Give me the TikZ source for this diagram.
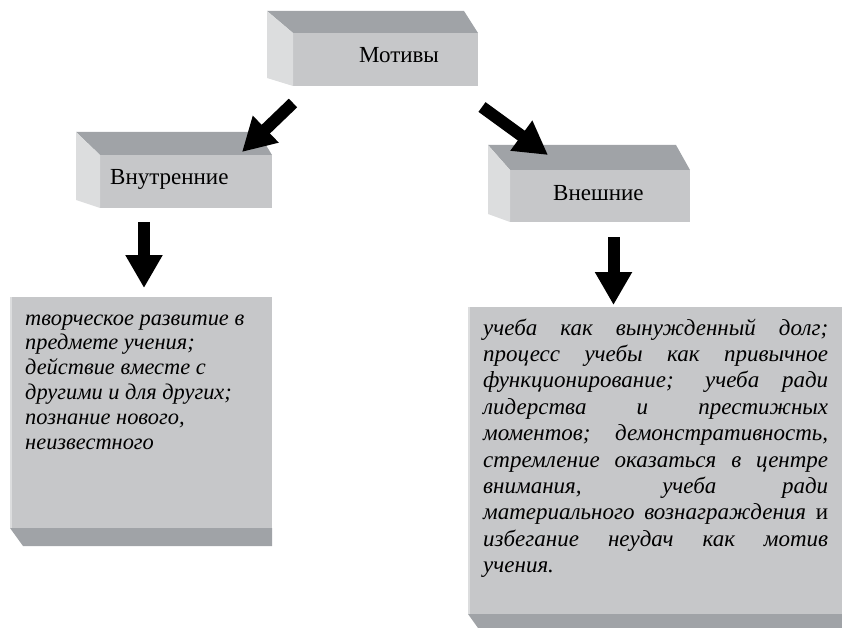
\documentclass[tikz,border=0pt]{standalone}
\usepackage{fontspec}
\setmainfont{Liberation Serif}
\usetikzlibrary{arrows.meta}
\definecolor{frontc}{HTML}{C6C7C9}
\definecolor{topc}{HTML}{A0A3A7}
\definecolor{sidec}{HTML}{DCDDDE}
\tikzset{
  face/.style={rectangle, fill=frontc, draw=none, inner sep=0pt, outer sep=0pt, anchor=north west},
  topface/.style={fill=topc},
  sideface/.style={fill=sidec},
  lbl/.style={font=\fontsize{23}{26}\selectfont, inner sep=0pt, anchor=base west},
  bodyl/.style={font=\fontsize{22.4}{24.8}\selectfont\itshape, inner sep=0pt, anchor=base west, align=left},
  bodyr/.style={font=\fontsize{23}{26.4}\selectfont\itshape, inner sep=0pt, anchor=base west, align=left},
  blockarrow/.style={draw=black, line width=12pt, -{Triangle[length=33pt,width=35pt]}},
}
\newcommand{\jline}[1]{\makebox[345pt][s]{#1}}
\begin{document}
\begin{tikzpicture}[x=1pt,y=-1pt]
\useasboundingbox (0,0) rectangle (842,628);
% ---- Motivy box
\node[face, minimum width=185pt, minimum height=53pt] (motivy) at (293,33) {};
\fill[topface] (motivy.north west) -- ++(-26,-22) -- ([shift={(-14,-22)}]motivy.north east) -- (motivy.north east) -- cycle;
\fill[sideface] (motivy.north west) -- ++(-26,-22) -- ([shift={(-26,-8)}]motivy.south west) -- (motivy.south west) -- cycle;
\node[lbl] (tmotivy) at (359,63) {Мотивы};
% ---- Vnutrennie box
\node[face, minimum width=172pt, minimum height=53pt] (vnutr) at (100,155) {};
\fill[topface] (vnutr.north west) -- ++(-24,-23) -- ([shift={(-14,-23)}]vnutr.north east) -- (vnutr.north east) -- cycle;
\fill[sideface] (vnutr.north west) -- ++(-24,-23) -- ([shift={(-24,-8)}]vnutr.south west) -- (vnutr.south west) -- cycle;
\node[lbl] (tvnutr) at (110,185) {Внутренние};
% ---- Vneshnie box
\node[face, minimum width=180pt, minimum height=52pt] (vnesh) at (510,170) {};
\fill[topface] (vnesh.north west) -- ++(-22,-25) -- ([shift={(-14,-25)}]vnesh.north east) -- (vnesh.north east) -- cycle;
\fill[sideface] (vnesh.north west) -- ++(-22,-25) -- ([shift={(-22,-8)}]vnesh.south west) -- (vnesh.south west) -- cycle;
\node[lbl] (tvnesh) at (553,201) {Внешние};
% ---- Left text box
\node[face, minimum width=260pt, minimum height=231pt] (leftbox) at (12,297) {};
\fill[sideface] (leftbox.north west) -- ++(-2,0) -- ([shift={(-2,0)}]leftbox.south west) -- (leftbox.south west) -- cycle;
\fill[topface] ([shift={(-2,0)}]leftbox.south west) -- ([shift={(11,18)}]leftbox.south west) -- ([shift={(0,18)}]leftbox.south east) -- (leftbox.south east) -- cycle;
\node[bodyl] (lefttext) at (25,449) {творческое развитие в\\
предмете учения;\\
действие вместе с\\
другими и для других;\\
познание нового,\\
неизвестного};
% ---- Right text box
\node[face, minimum width=372pt, minimum height=307pt] (rightbox) at (470,307) {};
\fill[sideface] (rightbox.north west) -- ++(-2,0) -- ([shift={(-2,0)}]rightbox.south west) -- (rightbox.south west) -- cycle;
\fill[topface] ([shift={(-2,0)}]rightbox.south west) -- ([shift={(8,14)}]rightbox.south west) -- ([shift={(0,14)}]rightbox.south east) -- (rightbox.south east) -- cycle;
\node[bodyr] (righttext) at (483,572.6) {\jline{учеба как вынужденный долг;}\\
\jline{процесс учебы как привычное}\\
\jline{функционирование; учеба ради}\\
\jline{лидерства и престижных}\\
\jline{моментов; демонстративность,}\\
\jline{стремление оказаться в центре}\\
\jline{внимания, учеба ради}\\
\jline{материального вознаграждения\textup{ и}}\\
\jline{избегание неудач как мотив}\\
учения.};
% ---- Arrows
\coordinate (a1s) at (293,103);
\coordinate (a1e) at (242,152);
\coordinate (a2s) at (482,107);
\coordinate (a2e) at (548,155);
\coordinate (a3s) at (144,222);
\coordinate (a3e) at (144,288);
\coordinate (a4s) at (613.5,237);
\coordinate (a4e) at (613.5,305);
\draw[blockarrow] (a1s) -- (a1e);
\draw[blockarrow] (a2s) -- (a2e);
\draw[blockarrow] (a3s) -- (a3e);
\draw[blockarrow] (a4s) -- (a4e);
\end{tikzpicture}
\end{document}
